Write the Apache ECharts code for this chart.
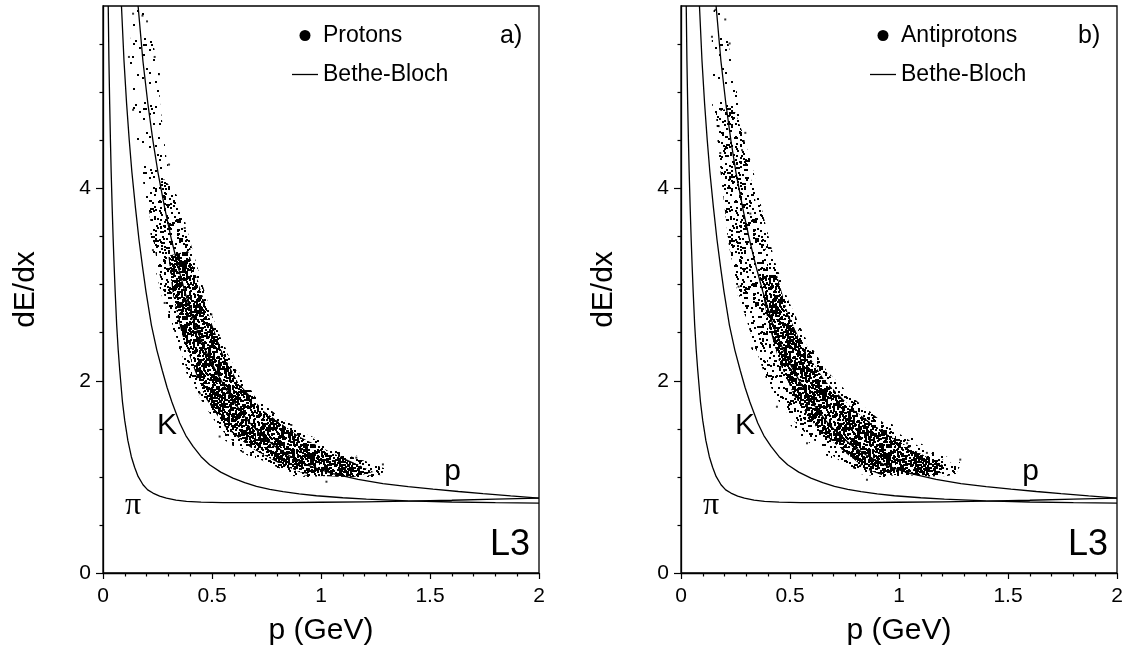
<!DOCTYPE html>
<html>
<head>
<meta charset="utf-8">
<title>dE/dx versus momentum</title>
<script src="https://cdn.jsdelivr.net/npm/echarts@6/dist/echarts.min.js"></script>
<style>
  html, body { margin: 0; padding: 0; background: #fff; }
  #chart { width: 1126px; height: 654px; }
</style>
</head>
<body>
<div id="chart"></div>
<script>
// ---- ticks ----
const xMajorTicks = [0, 0.5, 1, 1.5, 2];
const xMinorTicks = [0.1, 0.2, 0.3, 0.4, 0.6, 0.7, 0.8, 0.9, 1.1, 1.2, 1.3, 1.4, 1.6, 1.7, 1.8, 1.9];
const yMajorTicks = [0, 2, 4];
const yMinorTicks = [0.5, 1, 1.5, 2.5, 3, 3.5, 4.5, 5, 5.5];

// ---- Bethe-Bloch curves: [p (GeV), dE/dx] ----
const piCurve = [
  [0.0240, 5.90], [0.0272, 5.33], [0.0307, 4.88], [0.0341, 4.50], [0.0375, 4.17], [0.0421, 3.80],
  [0.0467, 3.47], [0.0512, 3.19], [0.0558, 2.93], [0.0628, 2.58], [0.0698, 2.32], [0.0768, 2.11],
  [0.0893, 1.78], [0.0995, 1.59], [0.114, 1.38], [0.130, 1.21], [0.145, 1.10], [0.161, 1.005],
  [0.1835, 0.918], [0.205, 0.865], [0.229, 0.832], [0.26, 0.80], [0.291, 0.780], [0.335, 0.758],
  [0.383, 0.745], [0.45, 0.737], [0.55, 0.733], [0.7, 0.732], [0.85, 0.733], [1.0, 0.736],
  [1.2, 0.741], [1.4, 0.748], [1.6, 0.757], [1.8, 0.768], [2.0, 0.780]
];
const kaonCurve = [
  [0.0847, 5.90], [0.0963, 5.33], [0.1084, 4.88], [0.1205, 4.50], [0.1326, 4.17], [0.149, 3.80],
  [0.165, 3.47], [0.181, 3.19], [0.197, 2.93], [0.222, 2.58], [0.247, 2.32], [0.2716, 2.11],
  [0.294, 1.93], [0.316, 1.78], [0.352, 1.56], [0.38, 1.43], [0.413, 1.317], [0.45, 1.21],
  [0.489, 1.126], [0.54, 1.05], [0.596, 0.988], [0.65, 0.94], [0.704, 0.901], [0.765, 0.871],
  [0.826, 0.846], [0.9, 0.823], [0.979, 0.804], [1.1, 0.783], [1.208, 0.768], [1.4, 0.750],
  [1.6, 0.739], [1.8, 0.732], [2.0, 0.728]
];
const protonCurve = [
  [0.161, 5.90], [0.183, 5.33], [0.206, 4.88], [0.229, 4.50], [0.252, 4.17], [0.283, 3.80],
  [0.314, 3.47], [0.344, 3.19], [0.375, 2.93], [0.422, 2.58], [0.469, 2.32], [0.516, 2.11],
  [0.560, 1.93], [0.600, 1.78], [0.666, 1.58], [0.725, 1.44], [0.788, 1.32], [0.855, 1.22],
  [0.929, 1.13], [0.99, 1.08], [1.055, 1.035], [1.17, 0.975], [1.284, 0.93], [1.4, 0.898],
  [1.514, 0.872], [1.63, 0.848], [1.743, 0.825], [1.87, 0.802], [2.0, 0.780]
];

// ---- measured track clouds: outlines of three density levels + stray tracks ----
const protonCloudOuter = [
  [0.168, 5.92], [0.136, 5.84], [0.122, 5.37], [0.136, 4.82], [0.173, 4.23], [0.205, 3.75],
  [0.237, 3.19], [0.274, 2.84], [0.320, 2.50], [0.366, 2.15], [0.43, 1.88], [0.48, 1.70],
  [0.515, 1.56], [0.56, 1.38], [0.641, 1.25], [0.719, 1.15], [0.811, 1.07], [0.870, 1.01],
  [0.980, 0.99], [1.086, 0.99], [1.210, 1.00], [1.292, 1.00], [1.31, 1.07], [1.256, 1.15],
  [1.164, 1.22], [1.054, 1.31], [0.934, 1.45], [0.843, 1.58], [0.732, 1.76], [0.673, 1.92],
  [0.618, 2.11], [0.544, 2.42], [0.476, 2.77], [0.430, 3.08], [0.384, 3.54], [0.338, 3.88],
  [0.292, 4.30], [0.260, 4.92], [0.260, 5.20], [0.237, 5.44], [0.200, 5.81], [0.19, 5.92]
];
const protonCloudMid = [
  [0.205, 3.95], [0.215, 3.7], [0.25, 3.2], [0.29, 2.8], [0.34, 2.42], [0.39, 2.08],
  [0.45, 1.80], [0.53, 1.52], [0.62, 1.32], [0.72, 1.18], [0.82, 1.08], [0.90, 1.02], [1.0, 1.0],
  [1.2, 1.01], [1.28, 1.02], [1.29, 1.09], [1.21, 1.16], [1.1, 1.24], [1.0, 1.35], [0.9, 1.49],
  [0.8, 1.64], [0.7, 1.83], [0.63, 2.03], [0.56, 2.33], [0.50, 2.68], [0.45, 3.05], [0.40, 3.45],
  [0.35, 3.9], [0.28, 4.1]
];
const protonCloudCore = [
  [0.30, 3.3], [0.32, 2.9], [0.36, 2.5], [0.42, 2.11], [0.47, 1.82], [0.56, 1.52], [0.68, 1.30],
  [0.80, 1.15], [0.90, 1.05], [0.98, 1.01], [1.15, 1.00], [1.24, 1.05], [1.16, 1.14], [1.06, 1.24],
  [0.90, 1.42], [0.74, 1.68], [0.62, 1.98], [0.55, 2.28], [0.49, 2.65], [0.44, 3.0], [0.39, 3.35]
];
const protonStray = [
  [0.138, 5.82], [0.181, 5.80], [0.202, 5.74], [0.119, 5.37], [0.237, 5.37], [0.257, 5.19],
  [0.138, 4.82], [0.303, 4.25], [0.375, 3.59], [0.229, 3.36], [0.283, 2.81], [0.497, 2.69],
  [0.444, 1.87], [0.535, 1.42], [0.642, 1.26], [1.025, 0.95], [0.780, 1.66], [0.864, 1.54],
  [1.162, 1.20], [1.284, 1.13]
];

const antiCloudOuter = [
  [0.168, 5.92], [0.150, 5.86], [0.142, 5.62], [0.138, 5.10], [0.150, 4.58], [0.173, 4.37],
  [0.196, 3.88], [0.211, 3.54], [0.241, 3.19], [0.264, 2.84], [0.310, 2.60], [0.326, 2.32],
  [0.364, 2.22], [0.410, 1.87], [0.455, 1.66], [0.532, 1.46], [0.608, 1.32], [0.716, 1.14],
  [0.792, 1.04], [0.914, 1.00], [1.067, 1.00], [1.220, 1.01], [1.296, 1.04], [1.304, 1.13],
  [1.220, 1.21], [1.098, 1.35], [0.991, 1.52], [0.853, 1.70], [0.731, 1.94], [0.639, 2.15],
  [0.578, 2.36], [0.517, 2.63], [0.455, 2.91], [0.410, 3.22], [0.364, 3.54], [0.341, 3.88],
  [0.303, 4.30], [0.287, 4.58], [0.272, 4.82], [0.234, 5.27], [0.218, 5.51], [0.196, 5.79],
  [0.18, 5.92]
];
const antiCloudMid = [
  [0.16, 4.8], [0.17, 4.4], [0.19, 4.0], [0.22, 3.4], [0.27, 2.85], [0.33, 2.42], [0.39, 2.02],
  [0.46, 1.74], [0.55, 1.5], [0.65, 1.3], [0.75, 1.13], [0.85, 1.03], [1.0, 1.01], [1.26, 1.03],
  [1.28, 1.11], [1.19, 1.19], [1.06, 1.36], [0.93, 1.56], [0.79, 1.82], [0.67, 2.1], [0.57, 2.45],
  [0.49, 2.85], [0.43, 3.25], [0.38, 3.7], [0.33, 4.2], [0.28, 4.6], [0.24, 4.85]
];
const antiCloudCore = [
  [0.36, 3.1], [0.40, 2.6], [0.45, 2.2], [0.52, 1.84], [0.62, 1.52], [0.75, 1.26], [0.85, 1.08],
  [0.92, 1.02], [1.18, 1.02], [1.22, 1.1], [1.1, 1.24], [0.96, 1.42], [0.80, 1.68], [0.66, 2.0],
  [0.56, 2.35], [0.49, 2.7], [0.44, 3.1]
];
const antiStray = [
  [0.158, 5.86], [0.203, 5.76], [0.142, 5.58], [0.223, 5.51], [0.173, 4.65], [0.295, 4.58],
  [0.180, 4.37], [0.280, 4.40], [0.318, 3.74], [0.264, 2.98], [0.326, 2.34], [0.440, 1.73],
  [0.578, 1.35], [1.037, 1.35], [1.128, 1.25], [1.281, 1.18], [0.853, 0.97]
];

// ---- layout ----
const FONT = '"Liberation Sans", Arial, sans-serif';
const SERIF = '"Liberation Serif", "Times New Roman", serif';
const panels = [
  { left: 103, name: 'Protons', tag: 'a)', outer: protonCloudOuter, mid: protonCloudMid, core: protonCloudCore, stray: protonStray },
  { left: 681, name: 'Antiprotons', tag: 'b)', outer: antiCloudOuter, mid: antiCloudMid, core: antiCloudCore, stray: antiStray }
];
const plotTop = 6, plotW = 436, plotH = 567;

// stipple texture used to fill the cloud outlines
function stipple(count, seed) {
  const tile = document.createElement('canvas');
  tile.width = tile.height = 64;
  const ctx = tile.getContext('2d');
  ctx.fillStyle = '#000';
  for (let i = 1; i <= count; i++) {
    const a = Math.sin(i * 12.9898 + seed * 78.233) * 43758.5453;
    const b = Math.sin(i * 39.3468 + seed * 11.135) * 24634.6345;
    ctx.fillRect(Math.floor((a - Math.floor(a)) * 64), Math.floor((b - Math.floor(b)) * 64), 2, 2);
  }
  return { image: tile, repeat: 'repeat' };
}
const sparseFill = stipple(60, 1);
const midFill = stipple(220, 2);
const coreFill = stipple(900, 3);

const chart = echarts.init(document.getElementById('chart'), null, { renderer: 'canvas' });

const grid = [], xAxis = [], yAxis = [], series = [], legend = [], graphic = [];

panels.forEach((pn, i) => {
  grid.push({ left: pn.left, top: plotTop, width: plotW, height: plotH, show: true,
    borderColor: '#000', borderWidth: 1.3, backgroundColor: 'transparent' });

  const tickLine = { color: '#000', width: 1.2 };
  xAxis.push({
    gridIndex: i, type: 'value', min: 0, max: 2, position: 'bottom',
    axisLine: { show: true, onZero: false, lineStyle: { color: '#000', width: 1.3 } },
    axisTick: { customValues: xMajorTicks, length: 6, lineStyle: tickLine },
    axisLabel: { customValues: xMajorTicks, margin: 13, fontSize: 21, color: '#000', fontFamily: FONT },
    splitLine: { show: false },
    name: 'p (GeV)', nameLocation: 'middle', nameGap: 43,
    nameTextStyle: { fontSize: 30, color: '#000', fontFamily: FONT }
  }, {
    gridIndex: i, type: 'value', min: 0, max: 2, position: 'bottom',
    axisLine: { show: false }, axisLabel: { show: false }, splitLine: { show: false },
    axisTick: { customValues: xMinorTicks, length: 3.5, lineStyle: tickLine }
  });
  yAxis.push({
    gridIndex: i, type: 'value', min: 0, max: 5.9, position: 'left',
    axisLine: { show: true, onZero: false, lineStyle: { color: '#000', width: 1.3 } },
    axisTick: { customValues: yMajorTicks, length: 7, lineStyle: tickLine },
    axisLabel: { customValues: yMajorTicks, margin: 12, fontSize: 21, color: '#000', fontFamily: FONT },
    splitLine: { show: false },
    name: 'dE/dx', nameLocation: 'middle', nameGap: 62,
    nameTextStyle: { fontSize: 30, color: '#000', fontFamily: FONT }
  }, {
    gridIndex: i, type: 'value', min: 0, max: 5.9, position: 'left',
    axisLine: { show: false }, axisLabel: { show: false }, splitLine: { show: false },
    axisTick: { customValues: yMinorTicks, length: 3.5, lineStyle: tickLine }
  });

  const ax = { xAxisIndex: 2 * i, yAxisIndex: 2 * i };
  const layers = [
    { pts: pn.outer, fill: sparseFill },
    { pts: pn.mid, fill: midFill },
    { pts: pn.core, fill: coreFill }
  ];
  series.push({
    ...ax, name: pn.name, type: 'custom', clip: true, silent: true, z: 2,
    itemStyle: { color: '#000' },
    data: layers.map(() => [0, 0]),
    renderItem: (params, api) => {
      const layer = layers[params.dataIndex];
      return {
        type: 'polygon',
        shape: { points: layer.pts.map(v => api.coord(v)) },
        style: { fill: layer.fill, stroke: null }
      };
    }
  });
  series.push({
    ...ax, name: pn.name, type: 'scatter', symbol: 'rect', symbolSize: 2, silent: true, z: 3,
    itemStyle: { color: '#000' }, data: pn.stray
  });
  [piCurve, kaonCurve, protonCurve].forEach(curve => {
    series.push({
      ...ax, name: 'Bethe-Bloch', type: 'line', data: curve, symbol: 'none', showSymbol: false,
      smooth: false, clip: true, silent: true, z: 4,
      lineStyle: { color: '#000', width: 1.3 }, itemStyle: { color: '#000' }
    });
  });

  legend.push({
    left: pn.left + 189, top: 24, orient: 'vertical', padding: 0,
    itemWidth: 26, itemHeight: 11, itemGap: 16, itemTextGap: 4, selectedMode: false,
    symbolKeepAspect: true,
    textStyle: { fontSize: 23, color: '#000', fontFamily: FONT },
    data: [
      { name: pn.name, icon: 'circle' },
      { name: 'Bethe-Bloch', icon: 'path://M0,0L20,0L20,1L0,1Z' }
    ]
  });

  const dx = pn.left - 103;
  const text = (x, y, str, size, family, align) => ({
    type: 'text', silent: true, z: 10,
    style: { x: x + dx, y, text: str, font: `${size}px ${family}`, fill: '#000',
      align, textAlign: align, verticalAlign: 'middle', textVerticalAlign: 'middle' }
  });
  graphic.push(
    text(500, 36, pn.tag, 25, FONT, 'left'),
    text(167, 426, 'K', 30, FONT, 'center'),
    text(133, 506, 'π', 32, SERIF, 'center'),
    text(452.5, 471.5, 'p', 30, FONT, 'center'),
    text(530, 545, 'L3', 36, FONT, 'right')
  );
});

chart.setOption({
  animation: false,
  backgroundColor: '#fff',
  grid, xAxis, yAxis, series, legend, graphic
});
</script>
</body>
</html>
